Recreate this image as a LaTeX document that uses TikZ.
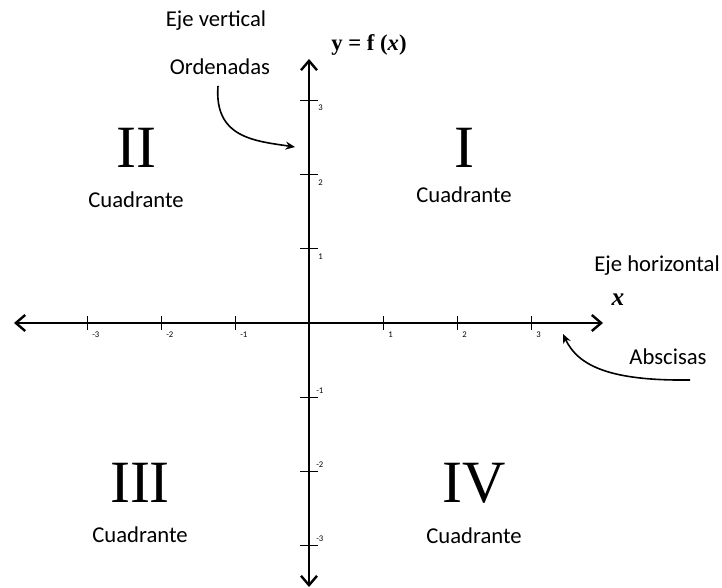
\documentclass[tikz,border=0pt]{standalone}
\usepackage{fontspec}
\setmainfont{Carlito}
\newfontfamily\numfont{Liberation Serif}
\usetikzlibrary{positioning,arrows.meta}

\begin{document}
\begin{tikzpicture}[x=0.75pt, y=-0.75pt,
  axis/.style={line width=1.8pt, {Straight Barb[length=7pt,width=12pt]}-{Straight Barb[length=7pt,width=12pt]}},
  axtick/.style={line width=0.7pt},
  ticklbl/.style={font=\fontsize{6.5}{7}\selectfont, inner sep=0pt},
  lbl/.style={font=\fontsize{17}{19}\selectfont, inner sep=0pt},
  quad/.style={font=\numfont\fontsize{45}{48}\selectfont, inner sep=0pt},
  pointer/.style={-{Stealth[length=7pt,width=6pt]}, line width=1.2pt}]
  \useasboundingbox (0,0) rectangle (722,588);
  % --- axes
  \coordinate (xl) at (14,323);
  \coordinate (xr) at (603,323);
  \coordinate (yt) at (309,59);
  \coordinate (yb) at (309,587);
  \draw[axis] (xl) -- (xr);
  \draw[axis] (yb) -- (yt);
  % --- ticks on the horizontal axis
  \foreach \i/\t in {-3/-3,-2/-2,-1/-1,1/1,2/2,3/3} {
    \draw[axtick] (309+74*\i,316) -- (309+74*\i,330);
    \node[ticklbl, anchor=north west] at (309+74*\i+5,332) {\t};
  }
  % --- ticks on the vertical axis
  \foreach \i in {1,2,3} {
    \draw[axtick] (300,323-74.3*\i) -- (318,323-74.3*\i);
    \node[ticklbl, anchor=north west] at (318,323-74.3*\i+5) {\i};
  }
  \foreach \i in {1,2,3} {
    \draw[axtick] (300,323+74.3*\i) -- (318,323+74.3*\i);
    \node[ticklbl, anchor=south west] at (316,323+74.3*\i-4) {-\i};
  }
  % --- axis names
  \node[lbl] (ejev) at (216,21) {Eje vertical};
  \node[lbl] (ord)  at (220,67) {Ordenadas};
  \node[font=\numfont\bfseries\fontsize{17}{20}\selectfont, inner sep=0pt] (fx) at (369,45) {y = f (\textit{x})};
  \node[lbl, anchor=east] (ejeh) at (720,266) {Eje horizontal};
  \node[font=\numfont\bfseries\itshape\fontsize{19}{22}\selectfont, inner sep=0pt] (xlbl) at (618,300) {x};
  \node[lbl] (absc) at (668,357) {Abscisas};
  % --- quadrants
  \node[quad] (q2) at (136,148) {II};
  \node[lbl, below=18pt of q2] (c2) {Cuadrante};
  \node[quad] (q1) at (464,148) {I};
  \node[lbl, below=14pt of q1] (c1) {Cuadrante};
  \node[quad] (q3) at (140,483) {III};
  \node[lbl, below=18pt of q3] (c3) {Cuadrante};
  \node[quad] (q4) at (474,483) {IV};
  \node[lbl, below=18pt of q4] (c4) {Cuadrante};
  % --- pointers
  \coordinate (ordtip) at (295,147);
  \coordinate (abstip) at (563,334);
  \coordinate (absst)  at (690,380);
  \draw[pointer] ([yshift=-8pt]ord.south west -| 218,0) .. controls (214,138) and (255,141) .. (ordtip);
  \draw[pointer] (absst) .. controls (610,381) and (578,366) .. (abstip);
\end{tikzpicture}
\end{document}
